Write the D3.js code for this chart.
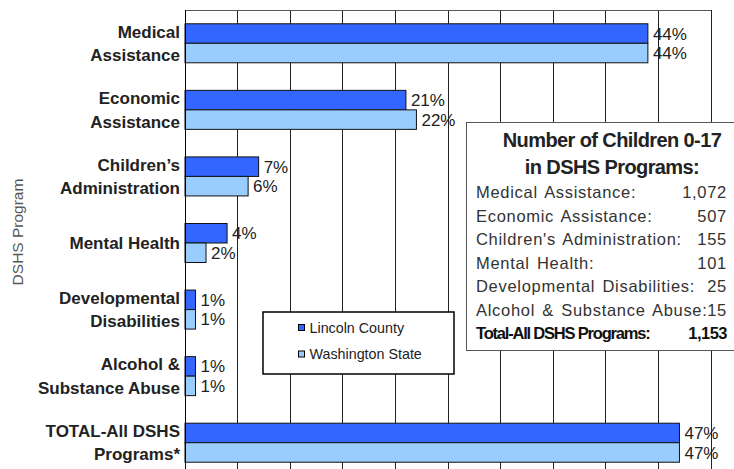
<!DOCTYPE html>
<html>
<head>
<meta charset="utf-8">
<script src="https://cdn.jsdelivr.net/npm/d3@7"></script>
<style>
  * { margin: 0; padding: 0; }
  body { background: #fff; }
  svg { display: block; font-family: "Liberation Sans", Arial, sans-serif; }
</style>
</head>
<body>
<svg id="chart" width="734" height="469"></svg>
<script>
// categories (top to bottom), two lines each
var programs = ["Medical\nAssistance", "Economic\nAssistance", "Children\u2019s\nAdministration",
  "Mental Health", "Developmental\nDisabilities", "Alcohol &\nSubstance Abuse", "TOTAL-All DSHS\nPrograms*"];
var seriesNames = ["Lincoln County", "Washington State"];
var lincoln = [44, 21, 7, 4, 1, 1, 47];
var washington = [44, 22, 6, 2, 1, 1, 47];
var xTicks = [0, 5, 10, 15, 20, 25, 30, 35, 40, 45, 50];

// info box contents
var boxTitle = ["Number of Children 0-17", "in DSHS Programs:"];
var boxLabels = ["Medical Assistance:", "Economic Assistance:", "Children's Administration:",
  "Mental Health:", "Developmental Disabilities:", "Alcohol & Substance Abuse:"];
var boxCounts = ["1,072", "507", "155", "101", "25", "15"];
var boxTotalLabel = "Total-All DSHS Programs:";
var boxTotal = "1,153";

var colors = { "Lincoln County": "#3366ff", "Washington State": "#99ccff" };

var svg = d3.select("#chart");
var plot = { left: 185, right: 711, top: 10, bottom: 476 };

var x = d3.scaleLinear().domain([0, 50]).range([plot.left, plot.right]);
var y = d3.scaleBand().domain(programs).range([plot.top, plot.bottom])
  .paddingInner(0.414).paddingOuter(0.207);
var ySub = d3.scaleBand().domain(seriesNames).range([0, y.bandwidth()]);

// gridlines
svg.append("g").selectAll("line")
  .data(xTicks.slice(1))
  .enter().append("line")
  .attr("x1", function (d) { return x(d); })
  .attr("x2", function (d) { return x(d); })
  .attr("y1", plot.top).attr("y2", plot.bottom)
  .attr("stroke", "#222").attr("stroke-width", 1)
  .attr("shape-rendering", "crispEdges");

svg.append("line")
  .attr("x1", plot.left).attr("x2", plot.right)
  .attr("y1", plot.top).attr("y2", plot.top)
  .attr("stroke", "#555").attr("shape-rendering", "crispEdges");

// bars
var rows = programs.map(function (p, i) {
  return { name: p, values: [
    { s: seriesNames[0], v: lincoln[i] },
    { s: seriesNames[1], v: washington[i] }] };
});

var groups = svg.append("g").selectAll("g")
  .data(rows).enter().append("g")
  .attr("transform", function (d) { return "translate(0," + y(d.name) + ")"; });

groups.selectAll("rect")
  .data(function (d) { return d.values; })
  .enter().append("rect")
  .attr("x", x(0))
  .attr("y", function (d) { return ySub(d.s); })
  .attr("width", function (d) { return x(d.v) - x(0); })
  .attr("height", ySub.bandwidth())
  .attr("fill", function (d) { return colors[d.s]; })
  .attr("stroke", "#111").attr("stroke-width", 1);

groups.selectAll("text")
  .data(function (d) { return d.values; })
  .enter().append("text")
  .attr("x", function (d) { return x(d.v) + 5; })
  .attr("y", function (d) { return ySub(d.s) + ySub.bandwidth() / 2; })
  .attr("dy", "0.36em")
  .style("font-size", "17px")
  .style("fill", "#222")
  .text(function (d) { return d.v + "%"; });

// left axis line
svg.append("line")
  .attr("x1", plot.left).attr("x2", plot.left)
  .attr("y1", plot.top).attr("y2", plot.bottom)
  .attr("stroke", "#000").attr("shape-rendering", "crispEdges");

// category labels
var catLabels = svg.append("g").selectAll("text")
  .data(programs).enter().append("text")
  .attr("text-anchor", "end")
  .style("font-size", "17px").style("font-weight", "bold").style("fill", "#222");
catLabels.each(function (d) {
  var lines = d.split("\n");
  var cy = y(d) + y.bandwidth() / 2;
  var t = d3.select(this);
  lines.forEach(function (ln, k) {
    t.append("tspan")
      .attr("x", 180)
      .attr("y", cy + (k - (lines.length - 1) / 2) * 23.5 + 6)
      .text(ln);
  });
});

// axis title
svg.append("text")
  .attr("transform", "translate(23,232) rotate(-90)")
  .attr("text-anchor", "middle")
  .style("font-size", "15.5px").style("fill", "#555")
  .text("DSHS Program");

// legend
var legend = svg.append("g").attr("transform", "translate(263,312)");
legend.append("rect")
  .attr("width", 191).attr("height", 62)
  .attr("fill", "#fff").attr("stroke", "#000").attr("stroke-width", 1.5);
var li = legend.selectAll("g.item").data(seriesNames).enter().append("g")
  .attr("class", "item")
  .attr("transform", function (d, i) { return "translate(0," + (15.5 + i * 26.5) + ")"; });
li.append("rect")
  .attr("x", 35.5).attr("y", -3).attr("width", 6).attr("height", 6)
  .attr("fill", function (d) { return colors[d]; })
  .attr("stroke", "#000").attr("stroke-width", 1);
li.append("text")
  .attr("x", 46.5).attr("dy", "0.36em")
  .style("font-size", "14.3px").style("fill", "#222")
  .text(function (d) { return d; });

// info box
var box = svg.append("g").attr("transform", "translate(466,122)");
box.append("rect")
  .attr("x", 0.5).attr("y", 0.5).attr("width", 272).attr("height", 228)
  .attr("fill", "#fff").attr("stroke", "#555").attr("stroke-width", 1);
box.selectAll("text.title").data(boxTitle).enter().append("text")
  .attr("class", "title")
  .attr("x", 146).attr("y", function (d, i) { return 25 + i * 26.5; })
  .attr("text-anchor", "middle")
  .style("font-size", "20px").style("font-weight", "bold")
  .style("letter-spacing", "-0.6px").style("fill", "#222")
  .text(function (d) { return d; });
box.selectAll("text.lab").data(boxLabels).enter().append("text")
  .attr("class", "lab")
  .attr("x", 10).attr("y", function (d, i) { return 76 + i * 23.5; })
  .style("font-size", "16.5px").style("letter-spacing", "0.7px")
  .style("word-spacing", "2px").style("fill", "#333")
  .text(function (d) { return d; });
box.selectAll("text.val").data(boxCounts).enter().append("text")
  .attr("class", "val")
  .attr("x", 261).attr("y", function (d, i) { return 76 + i * 23.5; })
  .attr("text-anchor", "end")
  .style("font-size", "16.5px").style("letter-spacing", "0.7px").style("fill", "#333")
  .text(function (d) { return d; });
box.append("text")
  .attr("x", 10).attr("y", 76 + 6 * 23.5)
  .style("font-size", "16.5px").style("font-weight", "bold")
  .style("letter-spacing", "-1.2px").style("fill", "#111")
  .text(boxTotalLabel);
box.append("text")
  .attr("x", 261).attr("y", 76 + 6 * 23.5)
  .attr("text-anchor", "end")
  .style("font-size", "16.5px").style("font-weight", "bold")
  .style("letter-spacing", "-0.5px").style("fill", "#111")
  .text(boxTotal);
</script>
</body>
</html>
